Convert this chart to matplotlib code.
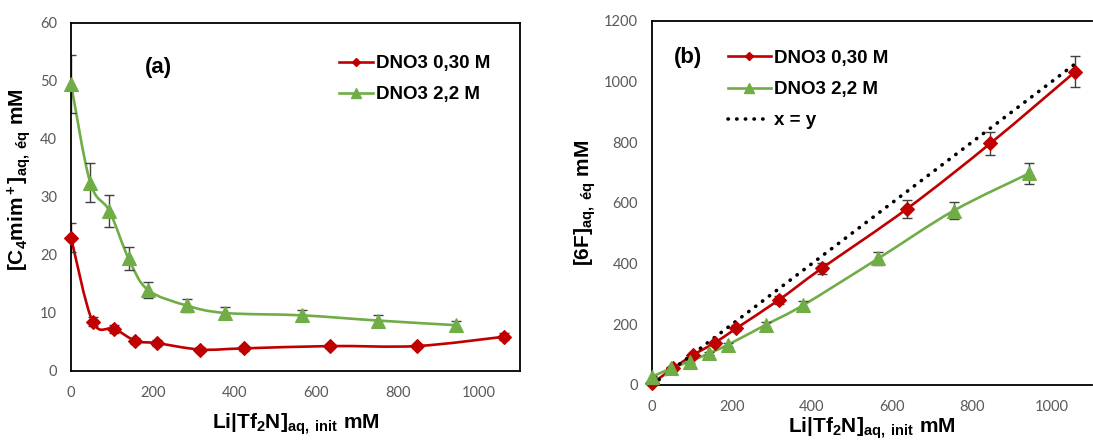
import numpy as np
import matplotlib
matplotlib.use('Agg')
import matplotlib.pyplot as plt
from matplotlib.path import Path
from matplotlib.patches import PathPatch
from matplotlib.lines import Line2D

plt.rcParams['font.family'] = ['Liberation Sans', 'DejaVu Sans']
plt.rcParams['mathtext.fontset'] = 'custom'
plt.rcParams['mathtext.rm'] = 'Liberation Sans'
plt.rcParams['mathtext.bf'] = 'Liberation Sans:bold'
plt.rcParams['mathtext.it'] = 'Liberation Sans:italic'
plt.rcParams['mathtext.default'] = 'bf'

# --- données (a) : [C4mim+] aq, éq
x_a_030 = [0, 53, 106, 158, 211, 317, 423, 635, 847, 1060]
y_a_030 = [23.0, 8.5, 7.3, 5.2, 4.8, 3.7, 3.9, 4.3, 4.3, 5.9]
e_a_030 = [2.5, 0.8, 0.7, 0.5, 0.5, 0.4, 0.4, 0.4, 0.4, 0.6]

x_a_22 = [0, 47, 94, 141, 188, 283, 378, 565, 751, 943]
y_a_22 = [49.5, 32.5, 27.6, 19.4, 14.0, 11.3, 10.0, 9.6, 8.7, 7.9]
e_a_22 = [5.0, 3.3, 2.8, 2.0, 1.4, 1.1, 1.0, 1.0, 0.9, 0.8]

# --- données (b) : [6F] aq, éq
x_b_030 = [0, 53, 103, 157, 211, 317, 424, 637, 846, 1058]
y_b_030 = [5, 55, 99, 139, 187, 280, 384, 580, 796, 1032]
e_b_030 = [0.3, 3, 5, 7, 9, 14, 19, 29, 38, 52]

x_b_22 = [0, 48, 94, 142, 189, 284, 378, 566, 754, 943]
y_b_22 = [27, 55, 77, 104, 132, 198, 263, 417, 574, 697]
e_b_22 = [1.5, 3, 4, 5, 7, 10, 13, 21, 28, 35]

x_xy = [0, 1060]

labels = ['DNO3 0,30 M', 'DNO3 2,2 M', 'x = y']
red = '#C00000'
green = '#70AD47'
tick_gray = '#595959'
err_gray = '#404040'
dots = (0, (0.1, 2.3))


def smooth_path(x, y):
    # courbe lissée type Excel (Catmull-Rom -> Bézier)
    pts = np.column_stack([x, y]).astype(float)
    n = len(pts)
    verts = [pts[0]]
    codes = [Path.MOVETO]
    for i in range(n - 1):
        p0 = pts[i - 1] if i > 0 else pts[i]
        p1 = pts[i]
        p2 = pts[i + 1]
        p3 = pts[i + 2] if i + 2 < n else pts[i + 1]
        verts += [p1 + (p2 - p0) / 6, p2 - (p3 - p1) / 6, p2]
        codes += [Path.CURVE4] * 3
    return Path(verts, codes)


def series(ax, x, y, err, color, marker, ms):
    ax.add_patch(PathPatch(smooth_path(x, y), facecolor='none',
                           edgecolor=color, lw=1.9, zorder=2))
    ax.errorbar(x, y, yerr=err, fmt='none', ecolor=err_gray,
                elinewidth=1, capsize=3.5, capthick=1, zorder=2.2)
    ax.plot(x, y, linestyle='none', marker=marker, ms=ms, color=color,
            mec=color, mew=0.8, zorder=4, clip_on=False)


def style_axes(ax, xmax, ymax, ystep):
    ax.set_xlim(0, xmax)
    ax.set_ylim(0, ymax)
    ax.set_xticks(np.arange(0, 1001, 200))
    ax.set_yticks(np.arange(0, ymax + 1, ystep))
    ax.tick_params(length=0, labelsize=10.5, labelcolor=tick_gray)
    ax.tick_params(axis='y', pad=10)
    ax.tick_params(axis='x', pad=11)
    for lab in ax.get_xticklabels() + ax.get_yticklabels():
        lab.set_fontfamily('Lato')
    for s in ax.spines.values():
        s.set_linewidth(1.3)
        s.set_color('black')


fig = plt.figure(figsize=(10.93, 4.43), dpi=100)
W, H = 1093, 443
ax1 = fig.add_axes([71 / W, 1 - 371 / H, (520 - 71) / W, (371 - 23) / H])
ax2 = fig.add_axes([652 / W, 1 - 385 / H, (1092 - 652) / W, (385 - 20.7) / H])

leg_kw = dict(loc='upper left', frameon=False, borderpad=0, borderaxespad=0,
              handletextpad=0.15, labelspacing=0.75,
              prop={'weight': 'bold', 'size': 13.5})

# (a)
style_axes(ax1, 1100, 60, 10)
series(ax1, x_a_030, y_a_030, e_a_030, red, 'D', 7.5)
series(ax1, x_a_22, y_a_22, e_a_22, green, '^', 10.5)
ax1.set_xlabel(r'Li|Tf$_2$N]$_{aq,\ init}$ mM', fontsize=15, fontweight='bold', labelpad=8)
ax1.set_ylabel(r'$[C_4mim^+]_{aq,\ éq}\ mM$', fontsize=15, fontweight='bold')
ax1.yaxis.set_label_coords(-0.085, 0.55)
ax1.text(0.194, 0.871, '(a)', transform=ax1.transAxes, fontsize=16,
         fontweight='bold', ha='center', va='center')
h1 = [Line2D([], [], color=red, lw=1.9, marker='D', ms=4.5),
      Line2D([], [], color=green, lw=1.9, marker='^', ms=6.5)]
ax1.legend(h1, labels[:2], bbox_to_anchor=(0.597, 0.908), handlelength=1.8, **leg_kw)

# (b)
style_axes(ax2, 1100, 1200, 200)
ax2.spines['right'].set_visible(False)
series(ax2, x_b_030, y_b_030, e_b_030, red, 'D', 7.5)
series(ax2, x_b_22, y_b_22, e_b_22, green, '^', 10.5)
ax2.plot(x_xy, x_xy, color='black', lw=2.6, linestyle=dots,
         dash_capstyle='round', zorder=3)
ax2.set_xlabel(r'Li|Tf$_2$N]$_{aq,\ init}$ mM', fontsize=15, fontweight='bold', labelpad=1)
ax2.set_ylabel(r'[6F]$_{aq,\ éq}$ mM', fontsize=15, fontweight='bold')
ax2.yaxis.set_label_coords(-0.123, 0.5)
ax2.text(0.082, 0.900, '(b)', transform=ax2.transAxes, fontsize=16,
         fontweight='bold', ha='center', va='center')
h2 = h1 + [Line2D([], [], color='black', lw=2.6, linestyle=dots,
                  dash_capstyle='round')]
ax2.legend(h2, labels, bbox_to_anchor=(0.172, 0.920), handlelength=2.3, **leg_kw)

fig.savefig('out.png', dpi=100)
